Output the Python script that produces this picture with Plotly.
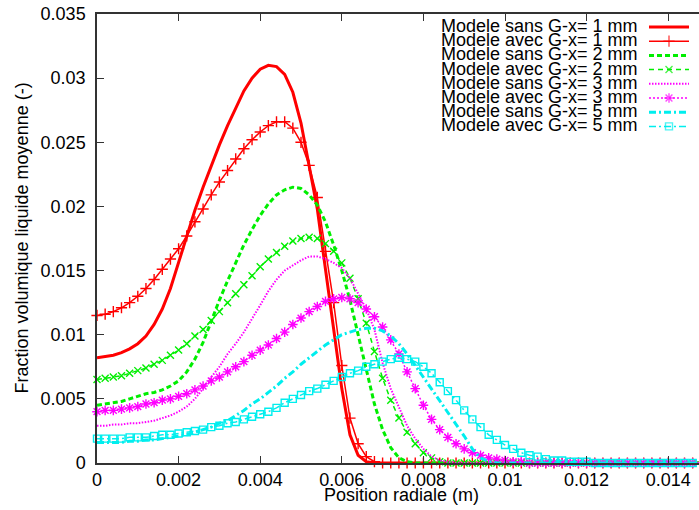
import plotly.graph_objects as go

# ---------------- data ----------------
x_pos = [0.0000, 0.0002, 0.0004, 0.0006, 0.0008, 0.0010, 0.0012, 0.0014, 0.0016, 0.0018,
         0.0020, 0.0022, 0.0024, 0.0026, 0.0028, 0.0030, 0.0032, 0.0034, 0.0036, 0.0038,
         0.0040, 0.0042, 0.0044, 0.0046, 0.0048, 0.0050, 0.0052, 0.0054, 0.0056, 0.0058,
         0.0060, 0.0062, 0.0064, 0.0066, 0.0068, 0.0070, 0.0072, 0.0074, 0.0076, 0.0078,
         0.0080, 0.0082, 0.0084, 0.0086, 0.0088, 0.0090, 0.0092, 0.0094, 0.0096, 0.0098,
         0.0100, 0.0102, 0.0104, 0.0106, 0.0108, 0.0110, 0.0112, 0.0114, 0.0116, 0.0118,
         0.0120, 0.0122, 0.0124, 0.0126, 0.0128, 0.0130, 0.0132, 0.0134, 0.0136, 0.0138,
         0.0140, 0.0142, 0.0144, 0.0146, 0.0148]

sans_1mm = [0.0082, 0.0083, 0.0084, 0.0086, 0.0089, 0.0093, 0.0099, 0.0108, 0.0120, 0.0136,
            0.0156, 0.0177, 0.0197, 0.0215, 0.0232, 0.0248, 0.0263, 0.0277, 0.0290, 0.0300,
            0.0307, 0.0310, 0.0309, 0.0303, 0.0289, 0.0265, 0.0232, 0.0198, 0.0151, 0.0106,
            0.0058, 0.0022, 0.0006, 0.0001, 0.0, 0.0, 0.0, 0.0, 0.0, 0.0,
            0.0, 0.0, 0.0, 0.0, 0.0, 0.0, 0.0, 0.0, 0.0, 0.0,
            0.0, 0.0, 0.0, 0.0, 0.0, 0.0, 0.0, 0.0, 0.0, 0.0,
            0.0, 0.0, 0.0, 0.0, 0.0, 0.0, 0.0, 0.0, 0.0, 0.0,
            0.0, 0.0, 0.0, 0.0, 0.0]

avec_1mm = [0.0115, 0.0116, 0.0118, 0.0121, 0.0125, 0.0130, 0.0136, 0.0143, 0.0151, 0.0159,
            0.0167, 0.0177, 0.0188, 0.0198, 0.0209, 0.0219, 0.0228, 0.0237, 0.0245, 0.0252,
            0.0258, 0.0263, 0.0266, 0.0266, 0.0261, 0.0250, 0.0232, 0.0207, 0.0165, 0.0125,
            0.0076, 0.0035, 0.0015, 0.0005, 0.0001, 0.0, 0.0, 0.0, 0.0, 0.0,
            0.0, 0.0, 0.0, 0.0, 0.0, 0.0, 0.0, 0.0, 0.0, 0.0,
            0.0, 0.0, 0.0, 0.0, 0.0, 0.0, 0.0, 0.0, 0.0, 0.0,
            0.0, 0.0, 0.0, 0.0, 0.0, 0.0, 0.0, 0.0, 0.0, 0.0,
            0.0, 0.0, 0.0, 0.0, 0.0]

sans_2mm = [0.0045, 0.0046, 0.0047, 0.0048, 0.0050, 0.0052, 0.0054, 0.0055, 0.0057, 0.0060,
            0.0064, 0.0071, 0.0081, 0.0094, 0.0111, 0.0127, 0.0142, 0.0156, 0.0170, 0.0182,
            0.0193, 0.0202, 0.0209, 0.0213, 0.0215, 0.0214, 0.0209, 0.0201, 0.0188, 0.0170,
            0.0150, 0.0127, 0.0101, 0.0073, 0.0046, 0.0026, 0.0012, 0.0004, 0.0001, 0.0,
            0.0, 0.0, 0.0, 0.0, 0.0, 0.0, 0.0, 0.0, 0.0, 0.0,
            0.0, 0.0, 0.0, 0.0, 0.0, 0.0, 0.0, 0.0, 0.0, 0.0,
            0.0, 0.0, 0.0, 0.0, 0.0, 0.0, 0.0, 0.0, 0.0, 0.0,
            0.0, 0.0, 0.0, 0.0, 0.0]

avec_2mm = [0.0065, 0.0066, 0.0067, 0.0068, 0.0070, 0.0072, 0.0074, 0.0077, 0.0080, 0.0084,
            0.0088, 0.0093, 0.0099, 0.0104, 0.0111, 0.0118, 0.0125, 0.0132, 0.0139, 0.0146,
            0.0153, 0.0159, 0.0164, 0.0169, 0.0173, 0.0175, 0.0176, 0.0175, 0.0171, 0.0165,
            0.0156, 0.0144, 0.0128, 0.0109, 0.0087, 0.0066, 0.0049, 0.0035, 0.0024, 0.0015,
            0.0008, 0.0004, 0.0001, 0.0, 0.0, 0.0, 0.0, 0.0, 0.0, 0.0,
            0.0, 0.0, 0.0, 0.0, 0.0, 0.0, 0.0, 0.0, 0.0, 0.0,
            0.0, 0.0, 0.0, 0.0, 0.0, 0.0, 0.0, 0.0, 0.0, 0.0,
            0.0, 0.0, 0.0, 0.0, 0.0]

sans_3mm = [0.0029, 0.0029, 0.0030, 0.0030, 0.0031, 0.0031, 0.0032, 0.0033, 0.0035, 0.0037,
            0.0040, 0.0044, 0.0050, 0.0058, 0.0067, 0.0075, 0.0085, 0.0093, 0.0102, 0.0112,
            0.0123, 0.0134, 0.0143, 0.0150, 0.0154, 0.0158, 0.0161, 0.0161, 0.0159, 0.0156,
            0.0152, 0.0144, 0.0132, 0.0120, 0.0104, 0.0078, 0.0058, 0.0043, 0.0029, 0.0019,
            0.0011, 0.0005, 0.0002, 0.0001, 0.0, 0.0, 0.0, 0.0, 0.0, 0.0,
            0.0, 0.0, 0.0, 0.0, 0.0, 0.0, 0.0, 0.0, 0.0, 0.0,
            0.0, 0.0, 0.0, 0.0, 0.0, 0.0, 0.0, 0.0, 0.0, 0.0,
            0.0, 0.0, 0.0, 0.0, 0.0]

avec_3mm = [0.0040, 0.0041, 0.0041, 0.0042, 0.0043, 0.0044, 0.0046, 0.0047, 0.0049, 0.0050,
            0.0052, 0.0054, 0.0057, 0.0060, 0.0064, 0.0067, 0.0071, 0.0075, 0.0079, 0.0084,
            0.0088, 0.0092, 0.0097, 0.0102, 0.0108, 0.0113, 0.0118, 0.0122, 0.0126, 0.0128,
            0.0129, 0.0128, 0.0125, 0.0120, 0.0114, 0.0106, 0.0096, 0.0085, 0.0071, 0.0058,
            0.0045, 0.0034, 0.0026, 0.0020, 0.0015, 0.0011, 0.0008, 0.0006, 0.0004, 0.0003,
            0.0002, 0.0001, 0.0001, 0.0, 0.0, 0.0, 0.0, 0.0, 0.0, 0.0,
            0.0, 0.0, 0.0, 0.0, 0.0, 0.0, 0.0, 0.0, 0.0, 0.0,
            0.0, 0.0, 0.0, 0.0, 0.0]

sans_5mm = [0.0016, 0.0016, 0.0016, 0.0016, 0.0017, 0.0017, 0.0018, 0.0018, 0.0019, 0.0020,
            0.0021, 0.0022, 0.0024, 0.0026, 0.0028, 0.0031, 0.0033, 0.0037, 0.0041, 0.0046,
            0.0050, 0.0055, 0.0060, 0.0066, 0.0071, 0.0077, 0.0082, 0.0087, 0.0092, 0.0096,
            0.0100, 0.0102, 0.0104, 0.0105, 0.0105, 0.0103, 0.0099, 0.0093, 0.0085, 0.0076,
            0.0067, 0.0058, 0.0049, 0.0040, 0.0031, 0.0021, 0.0011, 0.0004, 0.0001, 0.0,
            0.0, 0.0, 0.0, 0.0, 0.0, 0.0, 0.0, 0.0, 0.0, 0.0,
            0.0, 0.0, 0.0, 0.0, 0.0, 0.0, 0.0, 0.0, 0.0, 0.0,
            0.0, 0.0, 0.0, 0.0, 0.0]

avec_5mm = [0.0019, 0.0019, 0.0019, 0.0019, 0.0020, 0.0020, 0.0020, 0.0021, 0.0022, 0.0022,
            0.0023, 0.0024, 0.0025, 0.0026, 0.0028, 0.0029, 0.0031, 0.0032, 0.0034, 0.0036,
            0.0038, 0.0040, 0.0043, 0.0047, 0.0050, 0.0053, 0.0056, 0.0058, 0.0061, 0.0064,
            0.0067, 0.0070, 0.0072, 0.0075, 0.0077, 0.0079, 0.0081, 0.0082, 0.0081, 0.0079,
            0.0075, 0.0070, 0.0063, 0.0056, 0.0049, 0.0041, 0.0034, 0.0028, 0.0022, 0.0018,
            0.0014, 0.0011, 0.0008, 0.0006, 0.0005, 0.0003, 0.0002, 0.0002, 0.0001, 0.0001,
            0.0001, 0.0, 0.0, 0.0, 0.0, 0.0, 0.0, 0.0, 0.0, 0.0,
            0.0, 0.0, 0.0, 0.0, 0.0]

series_names = ["Modele sans G-x= 1 mm", "Modele avec G-x= 1 mm",
                "Modele sans G-x= 2 mm", "Modele avec G-x= 2 mm",
                "Modele sans G-x= 3 mm", "Modele avec G-x= 3 mm",
                "Modele sans G-x= 5 mm", "Modele avec G-x= 5 mm"]
series_values = [sans_1mm, avec_1mm, sans_2mm, avec_2mm,
                 sans_3mm, avec_3mm, sans_5mm, avec_5mm]

x_tick_vals = [0, 0.002, 0.004, 0.006, 0.008, 0.010, 0.012, 0.014]
x_tick_text = ["0", "0.002", "0.004", "0.006", "0.008", "0.01", "0.012", "0.014"]
y_tick_vals = [0, 0.005, 0.010, 0.015, 0.020, 0.025, 0.030, 0.035]
y_tick_text = ["0", "0.005", "0.01", "0.015", "0.02", "0.025", "0.03", "0.035"]

x_title = "Position radiale (m)"
y_title = "Fraction volumique liquide moyenne (-)"

for v in series_values:
    assert len(v) == len(x_pos)

# ---------------- styles ----------------
RED, GREEN, MAGENTA, CYAN = "#ff0000", "#00ee00", "#ff00ff", "#00eeee"
styles = [
    dict(color=RED, width=3, dash="solid", symbol=None, msize=0),
    dict(color=RED, width=1.5, dash="solid", symbol="cross-thin", msize=8),
    dict(color=GREEN, width=3, dash="5px,3px", symbol=None, msize=0),
    dict(color=GREEN, width=1.5, dash="5px,4px", symbol="x-thin", msize=7),
    dict(color=MAGENTA, width=2, dash="1.5px,1.5px", symbol=None, msize=0),
    dict(color=MAGENTA, width=1.5, dash="2px,2px", symbol="asterisk", msize=8),
    dict(color=CYAN, width=3, dash="7px,3px,2px,3px", symbol=None, msize=0),
    dict(color=CYAN, width=1.5, dash="7px,3px,2px,3px", symbol="square-open", msize=7),
]

FONT = "Liberation Sans, Arial, Helvetica, sans-serif"
W, H = 699, 510
ML, MR, MT, MB = 97, 0, 14, 47
PW, PH = W - ML - MR, H - MT - MB
AX = "#333333"

fig = go.Figure()

for name, vals, st in zip(series_names, series_values, styles):
    if st["symbol"]:
        fig.add_trace(go.Scatter(
            x=x_pos, y=vals, name=name, mode="lines+markers",
            line=dict(color=st["color"], width=st["width"], dash=st["dash"]),
            marker=dict(symbol=st["symbol"], size=st["msize"], color=st["color"],
                        line=dict(color=st["color"], width=1.4)),
            cliponaxis=False, showlegend=False))
    else:
        fig.add_trace(go.Scatter(
            x=x_pos, y=vals, name=name, mode="lines",
            line=dict(color=st["color"], width=st["width"], dash=st["dash"]),
            cliponaxis=False, showlegend=False))

# ---------------- hand-made legend (gnuplot style, tight rows) ----------------
row0, row_step = 26.0, 14.2
text_right = 640
sx0, sx1 = 649, 689
annotations = []
for i, (name, st) in enumerate(zip(series_names, styles)):
    py = row0 + i * row_step
    annotations.append(dict(
        text=name, xref="paper", yref="paper",
        x=(text_right - ML) / PW, y=(H - MB - py) / PH,
        xanchor="right", yanchor="middle", showarrow=False,
        font=dict(family=FONT, size=18, color="#000000")))
    ly = py + 1
    if st["symbol"]:
        fig.add_trace(go.Scatter(
            x=[sx0, (sx0 + sx1) / 2, sx1], y=[ly, ly, ly], mode="lines+markers",
            xaxis="x2", yaxis="y2",
            line=dict(color=st["color"], width=st["width"], dash=st["dash"]),
            marker=dict(symbol=st["symbol"], size=[0, st["msize"], 0], color=st["color"],
                        line=dict(color=st["color"], width=1.4)),
            cliponaxis=False, showlegend=False, hoverinfo="skip"))
    else:
        fig.add_trace(go.Scatter(
            x=[sx0, sx1], y=[ly, ly], mode="lines",
            xaxis="x2", yaxis="y2",
            line=dict(color=st["color"], width=st["width"], dash=st["dash"]),
            cliponaxis=False, showlegend=False, hoverinfo="skip"))

# axis titles
annotations.append(dict(
    text=y_title, xref="paper", yref="paper",
    x=(21 - ML) / PW, y=0.5, textangle=-90,
    xanchor="center", yanchor="middle", showarrow=False,
    font=dict(family=FONT, size=18, color="#000000")))
annotations.append(dict(
    text=x_title, xref="paper", yref="paper",
    x=(401 - ML) / PW, y=(H - MB - 495) / PH,
    xanchor="center", yanchor="middle", showarrow=False,
    font=dict(family=FONT, size=18, color="#000000")))

fig.update_layout(
    width=W, height=H,
    margin=dict(l=ML, r=MR, t=MT, b=MB, pad=0),
    paper_bgcolor="white", plot_bgcolor="white",
    font=dict(family=FONT, size=18, color="#000000"),
    showlegend=False,
    annotations=annotations,
    xaxis=dict(
        range=[0, (W - ML) / 40800.0], tickvals=x_tick_vals, ticktext=x_tick_text,
        ticks="inside", ticklen=7, tickwidth=1, tickcolor=AX,
        showline=True, linecolor=AX, linewidth=1.5, mirror="ticks",
        showgrid=False, zeroline=False, ticklabelstandoff=0,
        tickfont=dict(family=FONT, size=18, color="#000000")),
    yaxis=dict(
        range=[0, 0.035], tickvals=y_tick_vals, ticktext=y_tick_text,
        ticks="inside", ticklen=7, tickwidth=1, tickcolor=AX,
        showline=True, linecolor=AX, linewidth=1.5, mirror=False,
        showgrid=False, zeroline=False, ticklabelstandoff=6,
        tickfont=dict(family=FONT, size=18, color="#000000")),
    xaxis2=dict(range=[ML, W], domain=[0, 1], anchor="y2", overlaying="x",
                visible=False, fixedrange=True),
    yaxis2=dict(range=[H - MB, MT], domain=[0, 1], anchor="x2", overlaying="y",
                visible=False, fixedrange=True),
)

fig.write_html("out.html",
               config={"displayModeBar": False},
               post_script="document.body.style.margin='0';document.body.style.padding='0';")
